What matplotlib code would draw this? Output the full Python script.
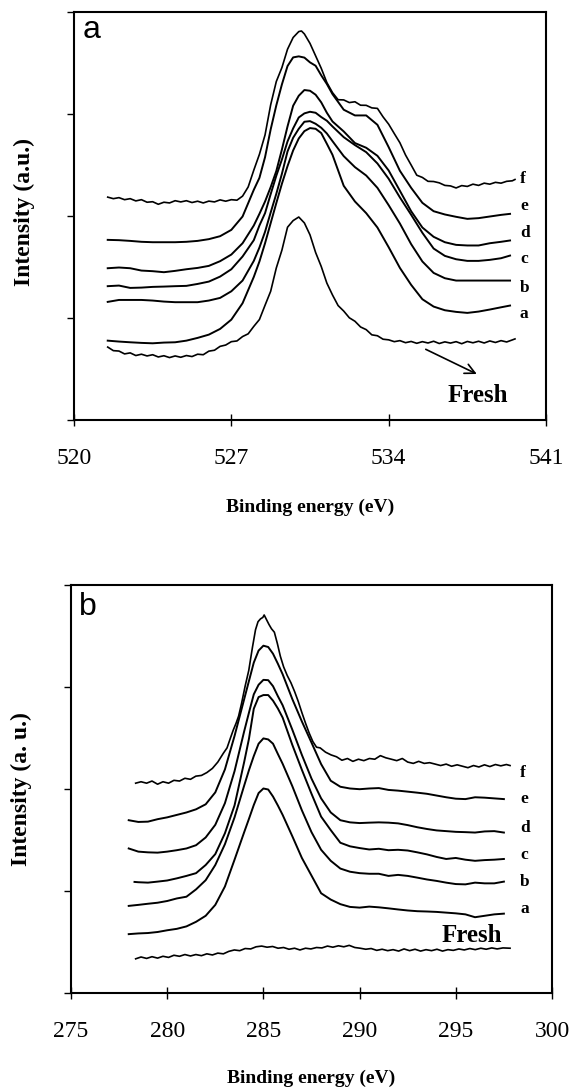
import matplotlib.pyplot as plt

plt.rcParams['font.family'] = 'Liberation Serif'

# ---- panel a: O 1s region ----
# common energy grid (eV) for the smooth spectra a-e
xa = [521.5, 522.0, 522.5, 523.0, 523.5, 524.0, 524.5, 525.0, 525.5, 526.0, 526.5, 527.0, 527.5, 528.0,
      528.25, 528.5, 528.75, 529.0, 529.25, 529.5, 529.75, 530.0, 530.25, 530.5, 530.75, 531.0, 531.25, 531.5,
      532.0, 532.5, 533.0, 533.5, 534.0, 534.5, 535.0, 535.5, 536.0, 536.5, 537.0, 537.5, 538.0, 538.5, 539.0,
      539.4]
a_a = [0.778, 0.769, 0.762, 0.756, 0.752, 0.759, 0.762, 0.778, 0.805, 0.837, 0.893, 0.984, 1.145, 1.403,
       1.554, 1.733, 1.930, 2.126, 2.316, 2.489, 2.643, 2.760, 2.832, 2.862, 2.855, 2.813, 2.708, 2.600,
       2.296, 2.142, 2.028, 1.887, 1.694, 1.491, 1.325, 1.184, 1.112, 1.076, 1.060, 1.050, 1.063, 1.083, 1.105,
       1.122]
b_a = [1.158, 1.177, 1.177, 1.177, 1.171, 1.161, 1.155, 1.155, 1.155, 1.171, 1.197, 1.262, 1.367, 1.560,
       1.691, 1.845, 2.034, 2.217, 2.414, 2.633, 2.767, 2.855, 2.924, 2.930, 2.904, 2.865, 2.809, 2.734,
       2.587, 2.479, 2.397, 2.276, 2.106, 1.926, 1.724, 1.554, 1.442, 1.390, 1.367, 1.367, 1.367, 1.367, 1.367,
       1.367]
c_a = [1.312, 1.318, 1.295, 1.298, 1.305, 1.308, 1.312, 1.315, 1.334, 1.357, 1.406, 1.478, 1.603, 1.763,
       1.907, 2.028, 2.214, 2.394, 2.554, 2.731, 2.859, 2.966, 3.006, 3.022, 3.012, 2.970, 2.934, 2.878,
       2.773, 2.695, 2.626, 2.515, 2.365, 2.182, 2.012, 1.835, 1.681, 1.609, 1.576, 1.560, 1.560, 1.570, 1.586,
       1.612]
d_a = [1.488, 1.495, 1.488, 1.465, 1.459, 1.449, 1.462, 1.478, 1.491, 1.511, 1.557, 1.622, 1.733, 1.907,
       2.021, 2.142, 2.283, 2.440, 2.652, 2.878, 3.081, 3.179, 3.235, 3.228, 3.189, 3.114, 3.012, 2.927,
       2.829, 2.715, 2.669, 2.590, 2.446, 2.247, 2.047, 1.887, 1.796, 1.743, 1.717, 1.711, 1.711, 1.733, 1.747,
       1.760]
e_a = [1.766, 1.763, 1.756, 1.747, 1.743, 1.743, 1.743, 1.747, 1.756, 1.773, 1.802, 1.864, 1.995, 2.257,
       2.374, 2.577, 2.849, 3.084, 3.290, 3.470, 3.555, 3.565, 3.553, 3.506, 3.473, 3.379, 3.294, 3.195,
       3.042, 2.986, 2.986, 2.894, 2.675, 2.443, 2.276, 2.129, 2.047, 2.015, 1.992, 1.972, 1.979, 1.995, 2.011,
       2.021]

# noisy spectra f and fresh
xf_a = [521.5, 521.75, 522.0, 522.25, 522.5, 522.75, 523.0, 523.25, 523.5, 523.75,
        524.0, 524.25, 524.5, 524.75, 525.0, 525.25, 525.5, 525.75, 526.0, 526.25,
        526.5, 526.75, 527.0, 527.25, 527.5, 527.75, 528.0, 528.25, 528.5, 528.75,
        529.0, 529.25, 529.5, 529.75, 530.0, 530.12, 530.25, 530.5, 530.75, 531.0,
        531.25, 531.5, 531.75, 532.0, 532.25, 532.5, 532.75, 533.0, 533.25, 533.5,
        533.75, 534.0, 534.25, 534.5, 534.75, 535.0, 535.25, 535.5, 535.75, 536.0,
        536.25, 536.5, 536.75, 537.0, 537.25, 537.5, 537.75, 538.0, 538.25, 538.5,
        538.75, 539.0, 539.25, 539.5, 539.62]
f_a = [2.185, 2.170, 2.180, 2.160, 2.170, 2.148, 2.160, 2.135, 2.140, 2.115,
       2.135, 2.128, 2.150, 2.138, 2.150, 2.132, 2.145, 2.128, 2.146, 2.138,
       2.158, 2.145, 2.160, 2.155, 2.195, 2.285, 2.450, 2.605, 2.795, 3.090,
       3.318, 3.455, 3.635, 3.750, 3.808, 3.814, 3.785, 3.692, 3.570, 3.448,
       3.308, 3.210, 3.140, 3.138, 3.112, 3.120, 3.086, 3.085, 3.060, 3.055,
       2.972, 2.900, 2.808, 2.718, 2.598, 2.500, 2.400, 2.378, 2.340, 2.338,
       2.325, 2.300, 2.295, 2.275, 2.298, 2.290, 2.312, 2.300, 2.322, 2.312,
       2.330, 2.322, 2.340, 2.345, 2.358]

xfr_a = [521.5, 521.75, 522.0, 522.25, 522.5, 522.75, 523.0, 523.25,
         523.5, 523.75, 524.0, 524.25, 524.5, 524.75, 525.0, 525.25,
         525.5, 525.75, 526.0, 526.25, 526.5, 526.75, 527.0, 527.25,
         527.5, 527.75, 528.0, 528.25, 528.5, 528.75, 529.0, 529.25,
         529.5, 529.75, 530.0, 530.25, 530.5, 530.75, 531.0, 531.25,
         531.5, 531.75, 532.0, 532.25, 532.5, 532.75, 533.0, 533.25,
         533.5, 533.75, 534.0, 534.25, 534.5, 534.75, 535.0, 535.25,
         535.5, 535.75, 536.0, 536.25, 536.5, 536.75, 537.0, 537.25,
         537.5, 537.75, 538.0, 538.25, 538.5, 538.75, 539.0, 539.25,
         539.5, 539.62]
fresh_a = [0.715, 0.680, 0.676, 0.648, 0.658, 0.632, 0.645, 0.628,
           0.640, 0.618, 0.630, 0.612, 0.628, 0.615, 0.632, 0.622,
           0.645, 0.640, 0.675, 0.684, 0.722, 0.735, 0.768, 0.775,
           0.818, 0.845, 0.918, 0.985, 1.125, 1.262, 1.490, 1.665,
           1.890, 1.955, 1.990, 1.932, 1.815, 1.642, 1.505, 1.342,
           1.226, 1.122, 1.068, 1.002, 0.968, 0.912, 0.886, 0.835,
           0.826, 0.792, 0.786, 0.768, 0.778, 0.758, 0.770, 0.752,
           0.768, 0.755, 0.772, 0.750, 0.766, 0.754, 0.768, 0.748,
           0.770, 0.757, 0.772, 0.755, 0.775, 0.760, 0.778, 0.765,
           0.785, 0.795]

# ---- panel b: C 1s region ----
xb = [278.0, 278.5, 279.0, 279.5, 280.0, 280.5, 281.0, 281.5, 282.0, 282.5, 283.0, 283.5, 284.0,
      284.25, 284.5, 284.75, 285.0, 285.25, 285.5, 285.75, 286.0,
      286.5, 287.0, 287.5, 288.0, 288.5, 289.0, 289.5, 290.0, 290.5, 291.0, 291.5, 292.0, 292.5,
      293.0, 293.5, 294.0, 294.5, 295.0, 295.5, 296.0, 296.5, 297.0, 297.5]
xb_c = [278.3] + xb[1:]
a_b = [0.577, 0.584, 0.588, 0.598, 0.615, 0.629, 0.653, 0.698, 0.757, 0.864, 1.044, 1.307, 1.576,
       1.708, 1.843, 1.960, 2.005, 1.995, 1.926, 1.839, 1.746,
       1.538, 1.324, 1.151, 0.978, 0.916, 0.871, 0.844, 0.837, 0.847, 0.840, 0.830, 0.819, 0.809,
       0.802, 0.799, 0.795, 0.788, 0.781, 0.771, 0.743, 0.757, 0.771, 0.778]
b_b = [0.854, 0.864, 0.875, 0.885, 0.902, 0.927, 0.944, 1.016, 1.106, 1.255, 1.459, 1.722, 2.033,
       2.185, 2.323, 2.444, 2.496, 2.486, 2.444, 2.344, 2.247,
       2.029, 1.791, 1.577, 1.404, 1.296, 1.220, 1.189, 1.175, 1.169, 1.169, 1.148, 1.158, 1.148,
       1.131, 1.113, 1.099, 1.082, 1.068, 1.065, 1.082, 1.075, 1.075, 1.092]
c_b = [1.089, 1.086, 1.082, 1.092, 1.103, 1.124, 1.148, 1.175, 1.255, 1.362, 1.566, 1.839, 2.264,
       2.493, 2.787, 2.901, 2.921, 2.921, 2.866, 2.790, 2.700,
       2.434, 2.188, 1.953, 1.729, 1.597, 1.473, 1.438, 1.421, 1.407, 1.414, 1.400, 1.404, 1.397,
       1.379, 1.359, 1.334, 1.314, 1.324, 1.307, 1.296, 1.303, 1.307, 1.314]
d_b = [1.417, 1.386, 1.379, 1.376, 1.386, 1.400, 1.417, 1.449, 1.525, 1.649, 1.861, 2.175, 2.565,
       2.749, 2.928, 3.022, 3.070, 3.067, 3.008, 2.911, 2.821,
       2.583, 2.334, 2.102, 1.908, 1.770, 1.694, 1.673, 1.666, 1.670, 1.673, 1.670, 1.663, 1.646,
       1.625, 1.608, 1.594, 1.587, 1.580, 1.577, 1.573, 1.584, 1.587, 1.573]
e_b = [1.694, 1.677, 1.680, 1.704, 1.722, 1.746, 1.770, 1.801, 1.850, 1.967, 2.192, 2.520, 2.880,
       3.060, 3.239, 3.357, 3.405, 3.392, 3.326, 3.229, 3.125,
       2.883, 2.662, 2.455, 2.244, 2.081, 2.022, 2.005, 1.998, 2.005, 2.009, 1.991, 1.984, 1.974,
       1.964, 1.953, 1.936, 1.919, 1.905, 1.901, 1.919, 1.915, 1.908, 1.901]

xf_b = [278.36, 278.64, 278.93, 279.21, 279.50, 279.78, 280.07, 280.35, 280.64, 280.92,
        281.21, 281.49, 281.78, 282.06, 282.35, 282.63, 282.92, 283.11, 283.30, 283.43,
        283.58, 283.71, 283.86, 284.05, 284.24, 284.43, 284.59, 284.72, 284.85, 284.97,
        285.04, 285.16, 285.29, 285.42, 285.57, 285.73, 285.88, 286.05, 286.24, 286.43,
        286.62, 286.81, 287.00, 287.19, 287.38, 287.57, 287.76, 287.95, 288.23, 288.52,
        288.80, 289.08, 289.37, 289.65, 289.94, 290.22, 290.51, 290.79, 291.08, 291.36,
        291.65, 291.93, 292.22, 292.50, 292.79, 293.07, 293.36, 293.64, 293.93, 294.21,
        294.50, 294.78, 295.07, 295.35, 295.63, 295.92, 296.20, 296.49, 296.77, 297.06,
        297.34, 297.63, 297.82]
f_b = [2.057, 2.071, 2.057, 2.078, 2.047, 2.071, 2.057, 2.085, 2.078, 2.105,
       2.095, 2.126, 2.133, 2.161, 2.202, 2.264, 2.351, 2.403, 2.507, 2.576,
       2.645, 2.714, 2.835, 3.008, 3.163, 3.388, 3.561, 3.640, 3.668, 3.682,
       3.706, 3.661, 3.613, 3.571, 3.537, 3.423, 3.302, 3.198, 3.112, 3.042,
       2.956, 2.859, 2.749, 2.645, 2.548, 2.465, 2.410, 2.403, 2.361, 2.334,
       2.316, 2.282, 2.299, 2.271, 2.292, 2.278, 2.299, 2.292, 2.327, 2.306,
       2.292, 2.278, 2.299, 2.264, 2.251, 2.271, 2.251, 2.258, 2.244, 2.230,
       2.244, 2.223, 2.237, 2.223, 2.209, 2.230, 2.216, 2.237, 2.220, 2.240,
       2.227, 2.240, 2.230]

xfr_b = [278.36, 278.64, 278.93, 279.21, 279.50, 279.78, 280.07, 280.35, 280.64, 280.92,
         281.21, 281.49, 281.78, 282.06, 282.35, 282.63, 282.92, 283.20, 283.49, 283.77,
         284.05, 284.34, 284.62, 284.91, 285.19, 285.48, 285.76, 286.05, 286.33, 286.62,
         286.90, 287.19, 287.47, 287.76, 288.04, 288.33, 288.61, 288.90, 289.18, 289.46,
         289.75, 290.03, 290.32, 290.60, 290.89, 291.17, 291.46, 291.74, 292.03, 292.31,
         292.60, 292.88, 293.17, 293.45, 293.74, 294.02, 294.31, 294.59, 294.87, 295.16,
         295.44, 295.73, 296.01, 296.30, 296.58, 296.87, 297.15, 297.45, 297.82]
fresh_b = [0.335, 0.353, 0.339, 0.356, 0.342, 0.360, 0.349, 0.370, 0.360, 0.377,
           0.363, 0.377, 0.366, 0.384, 0.373, 0.391, 0.384, 0.408, 0.422, 0.415,
           0.436, 0.432, 0.453, 0.460, 0.449, 0.456, 0.439, 0.446, 0.429, 0.439,
           0.422, 0.439, 0.432, 0.446, 0.442, 0.460, 0.449, 0.463, 0.453, 0.467,
           0.446, 0.439, 0.429, 0.436, 0.418, 0.429, 0.415, 0.425, 0.411, 0.432,
           0.415, 0.429, 0.411, 0.425, 0.415, 0.429, 0.411, 0.425, 0.418, 0.432,
           0.422, 0.436, 0.425, 0.439, 0.429, 0.442, 0.432, 0.442, 0.439]

labels = ['f', 'e', 'd', 'c', 'b', 'a']
label_y_a = [2.324, 2.059, 1.794, 1.539, 1.255, 1.000]
label_y_b = [2.118, 1.863, 1.578, 1.314, 1.049, 0.784]

fig = plt.figure(figsize=(5.74, 10.92), dpi=100)
ax1 = fig.add_axes([74 / 574, 1 - 420 / 1092, 472 / 574, 408 / 1092])
ax2 = fig.add_axes([71 / 574, 1 - 993 / 1092, 481 / 574, 408 / 1092])

lw = 1.4
ax1.plot(xfr_a, fresh_a, color='k', lw=1.2)
ax1.plot(xa, a_a, color='k', lw=lw)
ax1.plot(xa, b_a, color='k', lw=lw)
ax1.plot(xa, c_a, color='k', lw=lw)
ax1.plot(xa, d_a, color='k', lw=lw)
ax1.plot(xa, e_a, color='k', lw=lw)
ax1.plot(xf_a, f_a, color='k', lw=1.2)

ax2.plot(xfr_b, fresh_b, color='k', lw=1.2)
ax2.plot(xb, a_b, color='k', lw=lw)
ax2.plot(xb, b_b, color='k', lw=lw)
ax2.plot(xb_c, c_b, color='k', lw=lw)
ax2.plot(xb, d_b, color='k', lw=lw)
ax2.plot(xb, e_b, color='k', lw=lw)
ax2.plot(xf_b, f_b, color='k', lw=1.2)

for lab, y in zip(labels, label_y_a):
    ax1.text(539.84, y, lab, fontsize=12.5, fontweight='bold', ha='left', va='baseline')
for lab, y in zip(labels, label_y_b):
    ax2.text(298.34, y, lab, fontsize=12.5, fontweight='bold', ha='left', va='baseline')

ax1.text(536.6, 0.176, 'Fresh', fontsize=18, fontweight='bold', ha='left', va='baseline')
ax1.annotate('', xy=(537.92, 0.451), xytext=(535.65, 0.693),
             arrowprops=dict(arrowstyle='->', lw=1.2, color='k', mutation_scale=18,
                             shrinkA=0, shrinkB=0))
ax2.text(294.28, 0.5, 'Fresh', fontsize=18, fontweight='bold', ha='left', va='baseline')

ax1.text(0.019, 0.936, 'a', transform=ax1.transAxes, fontsize=23,
         family='Liberation Sans', ha='left', va='baseline')
ax2.text(0.017, 0.926, 'b', transform=ax2.transAxes, fontsize=23,
         family='Liberation Sans', ha='left', va='baseline')

ax1.set_xlim(520, 541)
ax1.set_xticks([520, 527, 534, 541])
ax2.set_xlim(275, 300)
ax2.set_xticks([275, 280, 285, 290, 295, 300])

for ax in (ax1, ax2):
    ax.set_ylim(0, 4)
    ax.set_yticks([0, 1, 2, 3, 4])
    ax.set_yticklabels([])
    for s in ax.spines.values():
        s.set_linewidth(1.5)
    ax.tick_params(axis='x', direction='inout', length=9, width=1, labelsize=17, pad=16)
    ax.tick_params(axis='y', direction='out', length=5, width=1)
    ax.set_xlabel('Binding energy (eV)', fontsize=14, fontweight='bold', va='center')

ax1.xaxis.set_label_coords(0.5, -0.215)
ax2.xaxis.set_label_coords(0.5, -0.21)
ax1.set_ylabel('Intensity (a.u.)', fontsize=17, fontweight='bold', va='center')
ax1.yaxis.set_label_coords(-0.106, 0.51)
ax2.set_ylabel('Intensity (a. u.)', fontsize=17, fontweight='bold', va='center')
ax2.yaxis.set_label_coords(-0.104, 0.5)

fig.savefig('out.png', dpi=100)
